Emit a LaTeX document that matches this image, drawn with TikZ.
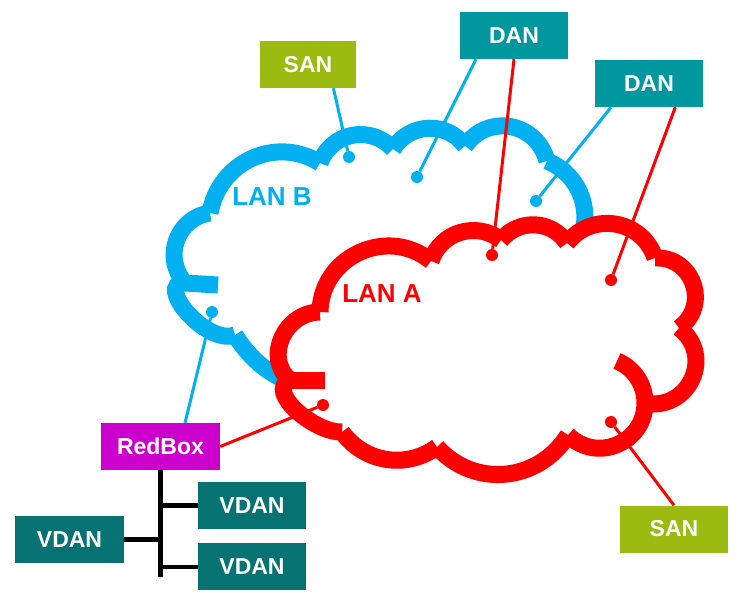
\documentclass[tikz,border=0pt]{standalone}
\usepackage{fontspec}
\setmainfont{Liberation Sans}
\usepackage{tikz}
\usetikzlibrary{calc,positioning}
\definecolor{LanBlue}{HTML}{00B0F0}
\definecolor{LanRed}{HTML}{FF0000}
\definecolor{SanGreen}{HTML}{9BBB10}
\definecolor{DanTeal}{HTML}{00979F}
\definecolor{VdanTeal}{HTML}{077272}
\definecolor{RedBoxMagenta}{HTML}{CC00CC}
\tikzset{
    box/.style={rectangle, minimum width=108pt, minimum height=47pt, inner sep=0pt, text=white, font=\fontsize{23}{25}\selectfont\bfseries},
    lanb/.style={draw=LanBlue, line width=17pt, line cap=butt},
    lana/.style={draw=LanRed, line width=17pt, line cap=butt},
    bluelink/.style={LanBlue, line width=3pt},
    redlink/.style={LanRed, line width=3pt},
    bus/.style={black, line width=4.5pt},
    dot/.style={circle, inner sep=0pt, minimum size=12pt},
    lanlabel/.style={font=\fontsize{26}{28}\selectfont\bfseries}
}
% puffs: from/to/out/in/looseness
\newcommand\lanbpuffs{b1/b2/132/188/1.16, b2/b3/80/148/1.1, b3/b4/70/132/1.13, b4/b5/58/126/1.1, b5/b6/55/105/1.23, b6/b7/-22/57/1.05, b7/b8/229/9/1, b8/b9/172/-58/0.95, b9/b1/200/180/1.1}
\newcommand\lanapuffs{r1/r2/89/141/1.17, r2/r3/72/142/1.08, r3/r4/50/124/1.08, r4/r5/52/108/1.16, r5/r6/3/35/1.33, r6/r7/-37/-11/1.4, r7/r8/-90/-45/1.23, r8/r9/238/312/1.08, r9/r10/216/306/1.01, r10/r11/182/205/0.95, r11/r1/140/180/1.2}
\begin{document}
\begin{tikzpicture}[x=1pt, y=-1pt]
    \useasboundingbox (0,0) rectangle (745,602);
    % LAN B cloud
    \coordinate (b1) at (185,283);
    \coordinate (b2) at (210,213);
    \coordinate (b3) at (320,163);
    \coordinate (b4) at (393,149);
    \coordinate (b5) at (465,146);
    \coordinate (b6) at (547,161);
    \coordinate (b7) at (575,250);
    \coordinate (b8) at (320,390);
    \coordinate (b9) at (235,335);
    \coordinate (bk) at (218,285);
    \fill[white] (b1) \foreach \p/\q/\outa/\ina/\loose in \lanbpuffs {to[out=\outa, in=\ina, looseness=\loose] (\q)} -- cycle;
    \foreach \p/\q/\outa/\ina/\loose in \lanbpuffs
        \draw[lanb] (\p) to[out=\outa, in=\ina, looseness=\loose] (\q);
    \draw[lanb] (b1) -- (bk);

    % LAN A cloud
    \coordinate (r1) at (320,312);
    \coordinate (r2) at (431,261);
    \coordinate (r3) at (501,240);
    \coordinate (r4) at (567,243);
    \coordinate (r5) at (655,258);
    \coordinate (r6) at (679,328);
    \coordinate (r7) at (645,403);
    \coordinate (r8) at (568,435);
    \coordinate (r9) at (437,447);
    \coordinate (r10) at (342,432);
    \coordinate (r11) at (290,380);
    \coordinate (rk) at (325,380);
    \coordinate (rc) at (617,361);
    \fill[white] (r1) \foreach \p/\q/\outa/\ina/\loose in \lanapuffs {to[out=\outa, in=\ina, looseness=\loose] (\q)} -- cycle;
    \foreach \p/\q/\outa/\ina/\loose in \lanapuffs
        \draw[lana] (\p) to[out=\outa, in=\ina, looseness=\loose] (\q);
    \draw[lana] (r11) -- (rk);
    \draw[lana] (rc) to[out=-22, in=90, looseness=0.93] (r7);

    \node[lanlabel, text=LanBlue] (lanb) at (272,197) {LAN B};
    \node[lanlabel, text=LanRed] (lana) at (382,294) {LAN A};

    % end nodes
    \node[dot, fill=LanBlue] (db1) at (349,157) {};
    \node[dot, fill=LanBlue] (db2) at (417,177) {};
    \node[dot, fill=LanBlue] (db3) at (536,201) {};
    \node[dot, fill=LanBlue] (db4) at (212,312) {};
    \node[dot, fill=LanRed] (da1) at (492,255) {};
    \node[dot, fill=LanRed] (da2) at (611,280) {};
    \node[dot, fill=LanRed] (da3) at (323,405) {};
    \node[dot, fill=LanRed] (da4) at (611,422) {};

    \node[box, fill=SanGreen, minimum width=96pt] (santop) at (308,64.5) {SAN};
    \node[box, fill=DanTeal] (dantop) at (514,35.5) {DAN};
    \node[box, fill=DanTeal] (danright) at (649,83.5) {DAN};
    \node[box, fill=SanGreen] (sanbot) at (674,529) {SAN};
    \node[box, fill=RedBoxMagenta, minimum width=119pt] (redbox) at (160.5,446.5) {RedBox};
    \node[box, fill=VdanTeal] (vdan1) at (252,505.5) {VDAN};
    \node[box, fill=VdanTeal, below=14pt of vdan1] (vdan2) {VDAN};
    \node[box, fill=VdanTeal, minimum width=109pt] (vdan3) at (69.5,539.5) {VDAN};

    \draw[bluelink] (santop.-43) -- (db1);
    \draw[bluelink] (dantop.-148) -- (db2);
    \draw[redlink] (dantop.south) -- (da1);
    \draw[bluelink] (danright.-148) -- (db3);
    \draw[redlink] (danright.-42) -- (da2);
    \draw[bluelink] (redbox.44) -- (db4);
    \draw[redlink] (redbox.east) -- (da3);
    \draw[redlink] (sanbot.north) -- (da4);

    % VDAN bus
    \coordinate (busend) at (160.5,577);
    \draw[bus] (redbox.south) -- (busend);
    \draw[bus] (vdan1.west) -- (vdan1.west -| busend);
    \draw[bus] (vdan2.west) -- (vdan2.west -| busend);
    \draw[bus] (vdan3.east) -- (vdan3.east -| busend);
\end{tikzpicture}
\end{document}
